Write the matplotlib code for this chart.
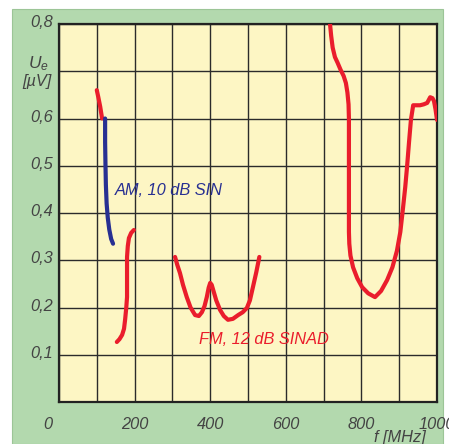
import matplotlib
matplotlib.use("Agg")
import matplotlib.pyplot as plt
from matplotlib.patches import Rectangle

# Empfindlichkeit U_e [µV] über Frequenz f [MHz]
red_a_f = [100, 104, 109, 114]
red_a_u = [0.66, 0.645, 0.625, 0.60]

am_f = [122, 122, 123, 124, 126, 129, 133, 138, 143]
am_u = [0.60, 0.55, 0.50, 0.46, 0.42, 0.39, 0.365, 0.345, 0.335]

red_b_f = [153, 160, 167, 172, 175, 178, 180, 180, 180, 182, 185, 191, 198]
red_b_u = [0.127, 0.133, 0.142, 0.155, 0.175, 0.20, 0.222, 0.26, 0.307, 0.33, 0.347, 0.358, 0.364]

red_c_f = [307, 313, 320, 328, 338, 348, 360, 370, 378, 385, 391, 396, 400, 404, 408,
           416, 426, 436, 447, 460, 474, 486, 497, 505, 513, 522, 530]
red_c_u = [0.307, 0.29, 0.273, 0.248, 0.222, 0.20, 0.184, 0.182, 0.19, 0.203, 0.222, 0.242, 0.252,
           0.248, 0.237, 0.215, 0.195, 0.182, 0.174, 0.176, 0.184, 0.19, 0.199, 0.215, 0.243, 0.275, 0.307]

red_d_f = [717, 720, 724, 730, 737, 745, 753, 759, 763, 766, 767, 767, 767, 767, 768, 771, 778,
           789, 802, 818, 836, 852, 868, 882, 894, 903, 910, 916, 921, 926, 931, 937, 946, 955,
           965, 974, 982, 988, 992, 996, 1000]
red_d_u = [0.80, 0.775, 0.75, 0.73, 0.718, 0.703, 0.69, 0.675, 0.655, 0.63, 0.60, 0.50, 0.40,
           0.36, 0.335, 0.31, 0.285, 0.262, 0.243, 0.23, 0.222, 0.235, 0.258, 0.285, 0.32, 0.36,
           0.41, 0.455, 0.50, 0.55, 0.597, 0.628, 0.628, 0.628, 0.630, 0.633, 0.645, 0.643,
           0.637, 0.62, 0.597]

x_labels = ["0", "200", "400", "600", "800", "1000"]
x_label_pos = [0, 200, 400, 600, 800, 1000]
y_labels = ["0,1", "0,2", "0,3", "0,4", "0,5", "0,6", "0,8"]
y_label_pos = [0.1, 0.2, 0.3, 0.4, 0.5, 0.6, 0.8]

RED = "#ea1d2c"
BLUE = "#283092"
TXT = "#444444"
FONT = "Liberation Sans"

plt.rcParams["mathtext.fontset"] = "custom"
plt.rcParams["mathtext.it"] = "Liberation Sans:italic"
plt.rcParams["mathtext.rm"] = "Liberation Sans"

fig = plt.figure(figsize=(4.49, 4.44), dpi=100, facecolor="white")
fig.patches.append(Rectangle((12 / 449, 0), 431 / 449, 435 / 444, transform=fig.transFigure,
                             facecolor="#b3d9ae", edgecolor="#9cc597", linewidth=0.8, zorder=-5))

ax = fig.add_axes([59 / 449, 42 / 444, 378 / 449, 378 / 444])
ax.set_zorder(2)
ax.set_facecolor("#fdf6c4")
ax.set_xlim(0, 1000)
ax.set_ylim(0, 0.8)
ax.set_xticks(range(0, 1001, 100))
ax.set_yticks([i / 10 for i in range(9)])
ax.tick_params(length=0, labelbottom=False, labelleft=False)
ax.grid(True, color="#2b2b2b", linewidth=1.0)
for s in ax.spines.values():
    s.set_color("#222222")
    s.set_linewidth(1.6)

kw = dict(linewidth=3.0, solid_capstyle="round", solid_joinstyle="round", zorder=3)
ax.plot(red_a_f, red_a_u, color=RED, **kw)
ax.plot(am_f, am_u, color=BLUE, **kw)
ax.plot(red_b_f, red_b_u, color=RED, **kw)
ax.plot(red_c_f, red_c_u, color=RED, **kw)
ax.plot(red_d_f, red_d_u, color=RED, **kw)

tfont = dict(family=FONT, style="italic", fontsize=11.8)
ax.text(148, 0.447, "AM, 10 dB SIN", color=BLUE, va="center", ha="left", **tfont)
ax.text(370, 0.133, "FM, 12 dB SINAD", color=RED, va="center", ha="left", **tfont)

# Achsenbeschriftung
xt = ax.get_xaxis_transform()
for pos, lab in zip(x_label_pos, x_labels):
    xx = pos if pos else -30
    ax.text(xx, -0.06, lab, transform=xt, color=TXT, ha="center", va="center",
            clip_on=False, **tfont)
yt = ax.get_yaxis_transform()
for pos, lab in zip(y_label_pos, y_labels):
    ax.text(-0.016, pos + 0.003, lab, transform=yt, color=TXT, ha="right", va="center",
            clip_on=False, **tfont)

ax.text(-0.055, 0.717, r"$\mathit{U}_{\mathit{e}}$", transform=yt, color=TXT,
        ha="center", va="center", fontsize=12.5)
ax.text(-0.058, 0.679, "[µV]", transform=yt, color=TXT, ha="center", va="center",
        **tfont)
fig.text(400 / 449, 7 / 444, "f [MHz]", color=TXT, ha="center", va="center", **tfont)

fig.savefig("out.png", dpi=100, facecolor="white")
